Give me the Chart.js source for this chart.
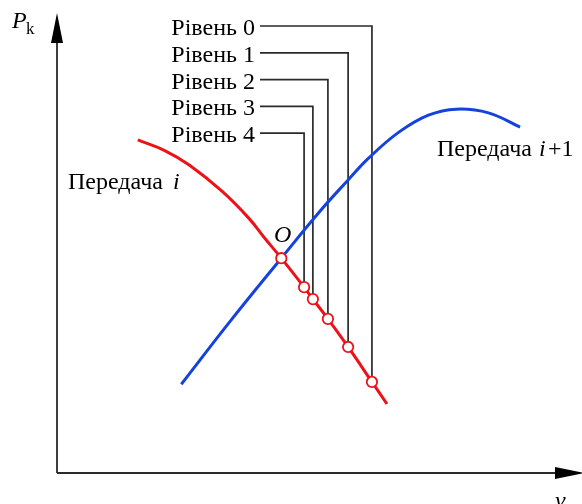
<!DOCTYPE html>
<html>
<head>
<meta charset="utf-8">
<script src="https://cdn.jsdelivr.net/npm/chart.js@4"></script>
<style>
  html, body { margin: 0; padding: 0; background: #fff; }
  canvas { display: block; }
</style>
</head>
<body>
<canvas id="chart" width="582" height="504"></canvas>
<script>
// Передача i (червона крива)
const redV = [15.6, 20.8, 25.6, 31.9, 37.1, 40.0, 43.3, 47.7, 49.4, 52.3, 56.2, 60.8, 63.7];
const redP = [72.4, 70.1, 66.9, 61.2, 55.3, 51.2, 46.7, 40.4, 37.8, 33.5, 27.4, 19.8, 15.0];

// Передача i+1 (синя крива)
const blueV = [24.0, 33.3, 43.3, 50.6, 56.2, 60.2, 66.0, 71.7, 77.1, 83.3, 89.4];
const blueP = [19.3, 32.8, 46.7, 56.7, 63.7, 68.5, 74.1, 77.8, 79.1, 78.3, 75.2];

// Точка перетину O та точки рівнів 0..4
const pointO = { v: 43.3, p: 46.7 };
const levelNames = ['Рівень 0', 'Рівень 1', 'Рівень 2', 'Рівень 3', 'Рівень 4'];
const levelV = [60.8, 56.2, 52.3, 49.4, 47.7];
const levelP = [19.8, 27.4, 33.5, 37.8, 40.4];

const RED = '#ec1218';
const BLUE = '#1442dc';
const SERIF = '"Liberation Serif", "DejaVu Serif", serif';

function toXY(xs, ys) {
    return xs.map((x, i) => ({ x: x, y: ys[i] }));
}

const markers = [{ x: pointO.v, y: pointO.p }].concat(toXY(levelV, levelP));

// осі зі стрілками та виноски
const axesPlugin = {
    id: 'axes',
    beforeDatasetsDraw(chart) {
        const ctx = chart.ctx;
        const x0 = 57, y0 = 473;
        ctx.save();
        ctx.strokeStyle = '#2a2a2a';
        ctx.lineWidth = 1.8;
        ctx.beginPath();
        ctx.moveTo(x0, y0);
        ctx.lineTo(x0, 30);
        ctx.moveTo(x0, y0);
        ctx.lineTo(565, y0);
        ctx.stroke();
        ctx.fillStyle = '#000';
        ctx.beginPath();
        ctx.moveTo(x0, 13);
        ctx.lineTo(x0 - 6, 43);
        ctx.lineTo(x0 + 6, 43);
        ctx.closePath();
        ctx.fill();
        ctx.beginPath();
        ctx.moveTo(584, y0);
        ctx.lineTo(555, y0 - 6);
        ctx.lineTo(555, y0 + 6);
        ctx.closePath();
        ctx.fill();

        const xs = chart.scales.x, ys = chart.scales.y;
        ctx.strokeStyle = '#2a2a2a';
        ctx.lineWidth = 1.7;
        levelNames.forEach((name, i) => {
            const px = xs.getPixelForValue(levelV[i]);
            const py = ys.getPixelForValue(levelP[i]);
            const rowY = 26 + i * 26.8;
            ctx.beginPath();
            ctx.moveTo(260, rowY);
            ctx.lineTo(px, rowY);
            ctx.lineTo(px, py);
            ctx.stroke();
        });
        ctx.restore();
    },
    afterDraw(chart) {
        const ctx = chart.ctx;
        ctx.save();
        ctx.fillStyle = '#000';
        ctx.textBaseline = 'alphabetic';

        // підписи рівнів
        ctx.font = '24px ' + SERIF;
        ctx.textAlign = 'right';
        levelNames.forEach((name, i) => {
            ctx.fillText(name, 255, 26 + i * 26.8 + 9);
        });

        ctx.textAlign = 'left';
        ctx.fillText('Передача ', 68, 189);
        let w = ctx.measureText('Передача ').width;
        ctx.font = 'italic 24px ' + SERIF;
        ctx.fillText('i', 68 + w + 4, 189);

        ctx.font = '24px ' + SERIF;
        ctx.fillText('Передача ', 437, 156);
        w = ctx.measureText('Передача ').width;
        ctx.font = 'italic 24px ' + SERIF;
        ctx.fillText('i', 437 + w + 1, 156);
        ctx.font = '24px ' + SERIF;
        ctx.fillText('+1', 548, 156);

        // позначки осей
        ctx.font = 'italic 24px ' + SERIF;
        ctx.fillText('P', 12, 28);
        ctx.font = '17px ' + SERIF;
        ctx.fillText('k', 26, 34);
        ctx.font = 'italic 24px ' + SERIF;
        ctx.fillText('v', 555, 508);
        ctx.fillText('O', 274, 242);
        ctx.restore();
    }
};

new Chart(document.getElementById('chart'), {
    type: 'scatter',
    data: {
        datasets: [
            {
                label: 'Точки',
                data: markers,
                showLine: false,
                pointRadius: 5.2,
                pointBorderWidth: 1.8,
                pointBorderColor: RED,
                pointBackgroundColor: '#fff'
            },
            {
                label: 'Передача i',
                data: toXY(redV, redP),
                showLine: true,
                borderColor: RED,
                borderWidth: 3,
                pointRadius: 0,
                tension: 0.4
            },
            {
                label: 'Передача i+1',
                data: toXY(blueV, blueP),
                showLine: true,
                borderColor: BLUE,
                borderWidth: 3,
                pointRadius: 0,
                tension: 0.4
            }
        ]
    },
    options: {
        responsive: false,
        animation: false,
        devicePixelRatio: 1,
        layout: { padding: { left: 57, right: 5, top: 13, bottom: 31 } },
        scales: {
            x: { type: 'linear', min: 0, max: 100, display: false },
            y: { type: 'linear', min: 0, max: 100, display: false }
        },
        plugins: {
            legend: { display: false },
            tooltip: { enabled: false }
        }
    },
    plugins: [axesPlugin]
});
</script>
</body>
</html>
